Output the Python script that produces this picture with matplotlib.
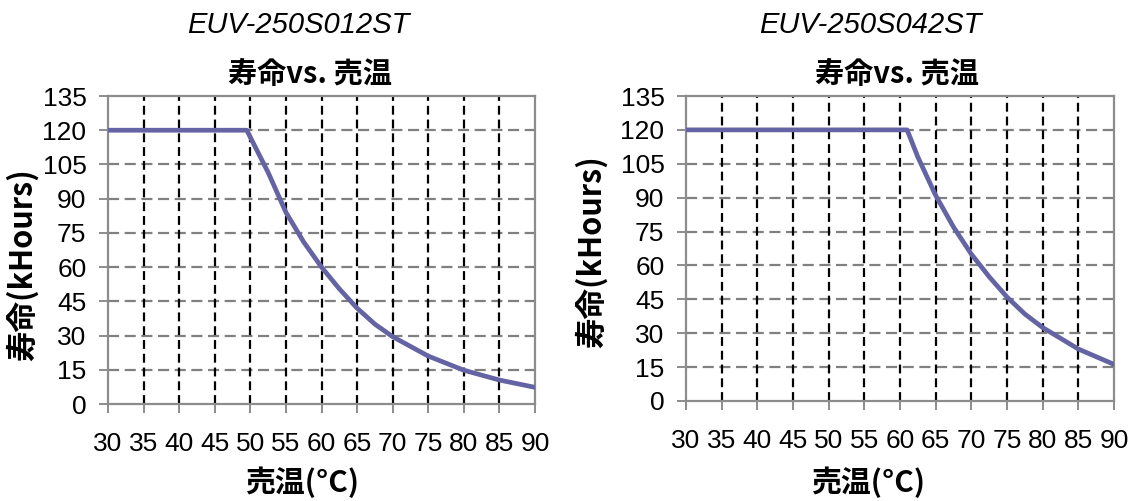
import numpy as np
import matplotlib
matplotlib.use("Agg")
import matplotlib.pyplot as plt

plt.rcParams['font.family'] = ['Liberation Sans', 'Noto Sans CJK JP']

# temperatures (C) and lifetime (kHours)
temp_012 = [30, 35, 40, 45, 49.5, 52.5, 55, 57.5, 60, 62.5, 65, 67.5, 70, 75, 80, 85, 90]
life_012 = [120, 120, 120, 120, 120, 101.5, 84, 71, 60, 50.5, 42, 35, 29.5, 21, 14.8, 10.5, 7.3]

temp_042 = [30, 35, 40, 45, 50, 55, 60, 61, 62.5, 65, 67.5, 70, 72.5, 75, 77.5, 80, 85, 90]
life_042 = [120, 120, 120, 120, 120, 120, 120, 120, 108, 91, 77, 65, 55, 46, 38.5, 32.5, 23, 16.2]

models = ["EUV-250S012ST", "EUV-250S042ST"]
x_ticks = list(range(30, 95, 5))
y_ticks = list(range(0, 150, 15))

title_cn = "寿命vs. 売温"
xlabel_cn = "売温(°C)"
ylabel_cn = "寿命(kHours)"

W, H = 1132, 501
fig = plt.figure(figsize=(W / 100, H / 100), dpi=100)

def px(x0, y0, x1, y1):
    return [x0 / W, 1 - y1 / H, (x1 - x0) / W, (y1 - y0) / H]

line_color = "#6464A4"
spine_color = "#8C8C8C"

panels = [
    dict(rect=px(108, 96, 535, 404), t=temp_012, l=life_012, name=models[0],
         tx=298, bx=310, xl=302, yl=(23, 265)),
    dict(rect=px(686, 96, 1114, 401), t=temp_042, l=life_042, name=models[1],
         tx=870, bx=897, xl=868, yl=(592, 252)),
]

for p in panels:
    ax = fig.add_axes(p["rect"])
    ax.plot(p["t"], p["l"], color=line_color, lw=3.4, solid_capstyle="round",
            solid_joinstyle="round", zorder=5)
    ax.set_xlim(30, 90)
    ax.set_ylim(0, 135)
    ax.set_xticks(x_ticks)
    ax.set_yticks(y_ticks)
    for s in ax.spines.values():
        s.set_color(spine_color)
        s.set_linewidth(1.6)
    ax.tick_params(axis="both", color=spine_color, width=1.4, length=6.5,
                   labelsize=19, direction="out")
    ax.tick_params(axis="x", pad=14)
    ax.tick_params(axis="y", pad=9)
    # grid lines (horizontal gray, vertical black on top)
    for y in y_ticks[1:-1]:
        ax.axhline(y, color="#808080", lw=1.6, ls=(0, (5, 2.5)), zorder=1)
    for x in x_ticks[1:-1]:
        ax.axvline(x, color="black", lw=1.6, ls=(0, (4, 2.2)), zorder=2)

    fig.text(p["tx"] / W, 1 - 25 / H, p["name"], ha="center", va="center",
             fontsize=21, style="italic")
    fig.text(p["bx"] / W, 1 - 74 / H, title_cn, ha="center", va="center",
             fontsize=21, fontweight="bold", family=["Noto Sans CJK JP"])
    fig.text(p["xl"] / W, 1 - 482 / H, xlabel_cn, ha="center", va="center",
             fontsize=21.5, fontweight="bold", family=["Noto Sans CJK JP"])
    fig.text(p["yl"][0] / W, 1 - p["yl"][1] / H, ylabel_cn, ha="center",
             va="center", rotation=90, fontsize=22, fontweight="bold",
             family=["Noto Sans CJK JP"])

fig.savefig("out.png", dpi=100)
